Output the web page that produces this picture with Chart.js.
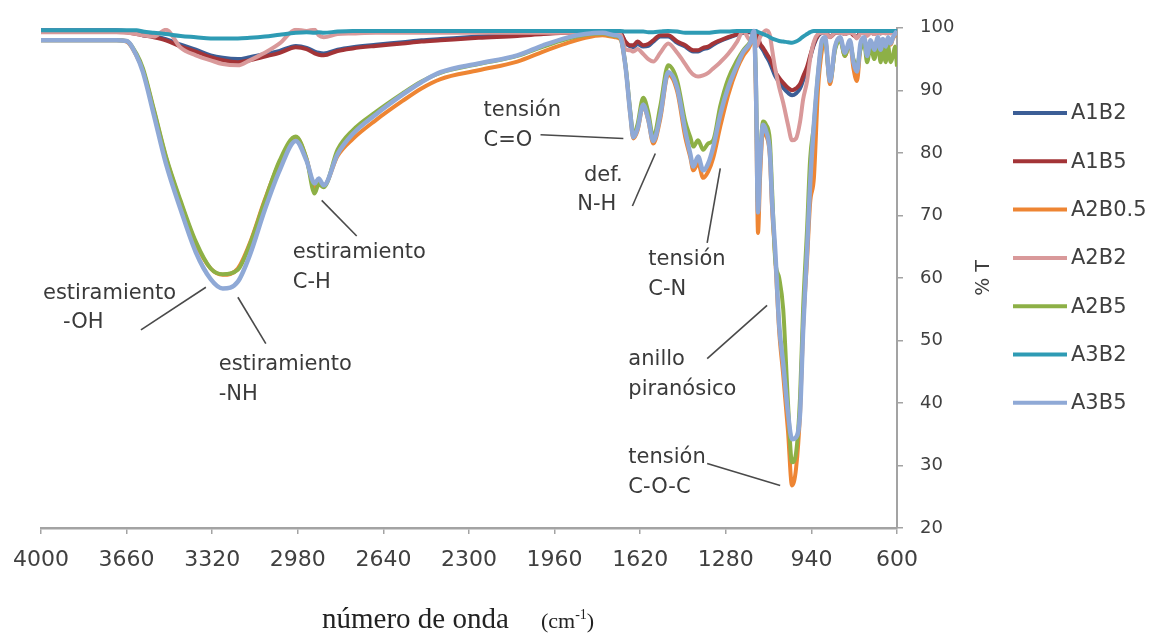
<!DOCTYPE html>
<html><head><meta charset="utf-8">
<script src="https://cdn.jsdelivr.net/npm/chart.js@4.4.1/dist/chart.umd.min.js"></script>
<style>html,body{margin:0;padding:0;background:#fff;}canvas{display:block;}</style>
</head><body>
<canvas id="c" width="1151" height="636"></canvas>
<script>
// ---------- DATA ----------
const wavenumbers = [4000,3800,3700,3660,3620,3595,3552,3504,3445,3385,3326,3278,3218,3171,3111,3052,2988,2945,2913,2897,2877,2822,2762,2671,2564,2489,2413,2262,2108,2005,1913,1838,1770,1720,1699,1679,1659,1647,1631,1608,1588,1568,1540,1509,1473,1441,1421,1409,1390,1370,1350,1330,1302,1271,1235,1211,1183,1168,1160,1152,1144,1132,1120,1105,1096,1084,1068,1052,1033,1017,1001,985,973,957,945,930,914,898,886,866,846,826,807,787,773,759,745,730,719,705,690,676,665,656,645,636,625,616,608,600];

const A1B2 = [99.6,99.6,99.6,99.5,99.2,98.8,98.6,98.2,97.3,96.5,95.6,95.2,95.0,95.3,95.8,96.3,97.1,96.8,96.2,96.0,95.9,96.5,96.9,97.3,97.7,98.0,98.2,98.6,98.9,99.1,99.3,99.4,99.5,99.5,99.3,97.6,97.0,96.9,97.4,97.0,97.1,97.8,98.6,98.6,97.6,97.0,96.4,96.2,96.2,96.6,96.8,97.3,97.9,98.4,98.9,99.2,99.3,99.3,99.0,98.3,97.2,96.4,95.5,94.4,93.5,92.3,91.3,90.4,89.6,89.2,89.5,90.3,91.6,93.3,95.2,97.3,98.7,99.2,99.3,98.6,99.2,99.3,99.0,99.3,98.9,98.6,99.2,99.3,98.9,99.3,99.0,99.3,99.1,99.3,99.2,99.4,99.3,99.4,99.5,99.5];

const A1B5 = [99.4,99.4,99.4,99.3,99.0,98.8,98.5,98.0,97.0,96.2,95.3,94.8,94.5,94.8,95.4,96.0,96.9,96.6,95.9,95.7,95.6,96.3,96.7,97.1,97.5,97.8,98.0,98.4,98.7,99.0,99.2,99.3,99.4,99.4,99.2,97.8,97.2,97.2,97.8,97.2,97.4,98.0,98.8,98.8,97.8,97.2,96.6,96.4,96.4,96.8,97.0,97.5,98.0,98.5,99.0,99.3,99.4,99.4,99.2,98.5,97.5,96.8,96.0,95.0,94.2,93.0,92.0,91.2,90.4,90.0,90.3,91.0,92.2,93.8,95.5,97.5,98.8,99.3,99.3,98.5,99.2,99.3,99.1,99.3,98.8,98.5,99.2,99.3,98.8,99.3,99.1,99.3,99.2,99.3,99.2,99.4,99.3,99.4,99.4,99.4];

const A2B05 = [98.0,98.0,98.0,97.8,95.5,93.2,86.8,79.3,72.0,65.5,61.5,60.5,61.5,65.5,72.5,78.5,82.5,79.0,74.5,75.5,74.8,79.5,82.2,85.2,88.3,90.3,91.8,93.2,94.6,96.2,97.5,98.4,98.8,98.5,98.2,94.0,86.0,82.3,83.5,87.5,85.2,81.5,85.5,92.5,89.8,82.5,79.3,77.2,78.3,76.0,77.0,79.2,84.2,89.2,93.5,95.5,97.2,99.3,88.0,67.2,76.0,83.5,82.8,79.5,71.0,63.5,51.5,44.5,35.5,26.8,29.5,38.5,52.0,63.0,72.0,76.0,90.0,96.5,98.3,91.0,96.8,98.4,95.5,97.8,93.5,91.5,97.0,98.4,95.2,97.8,96.2,98.3,96.3,98.0,96.8,98.3,97.3,98.3,98.8,99.3];

const A2B2 = [99.3,99.3,99.3,99.2,99.0,98.8,98.6,99.7,96.8,95.6,94.8,94.2,94.0,94.8,96.0,97.5,99.7,99.5,99.7,98.8,98.5,99.0,99.1,99.2,99.2,99.2,99.2,99.2,99.2,99.2,99.2,99.2,99.2,99.2,99.0,96.6,96.4,96.2,96.6,95.8,95.0,94.6,96.0,97.5,96.0,94.2,93.0,92.5,92.2,92.4,92.8,93.5,94.5,95.8,97.8,99.5,98.0,99.0,97.0,97.5,98.5,99.2,99.6,98.8,96.5,93.5,90.5,88.0,84.5,82.0,82.3,85.0,88.5,91.5,95.0,97.8,99.0,99.2,99.2,98.5,99.2,99.2,99.0,99.2,99.0,98.3,99.1,99.2,98.7,99.2,99.0,99.2,99.1,99.2,99.1,99.2,99.1,99.2,99.2,99.2];

const A2B5 = [98.0,98.0,98.0,97.9,95.8,93.5,87.0,79.5,72.3,65.8,61.5,60.6,61.3,65.3,72.3,78.8,82.6,79.0,73.5,75.0,74.5,80.5,83.6,86.5,89.5,91.4,92.8,94.2,95.5,97.0,98.2,98.9,99.1,98.7,98.4,94.2,86.5,82.8,84.5,88.8,86.5,82.5,87.5,94.0,91.5,85.0,82.5,81.0,82.0,80.5,81.5,82.0,87.5,91.8,94.8,96.4,97.8,99.4,91.0,72.0,79.0,85.0,84.5,82.0,74.0,63.0,60.0,55.0,40.0,30.5,32.0,41.0,55.0,68.0,79.0,84.5,92.5,97.5,98.0,91.5,96.5,98.0,95.5,97.5,95.0,94.0,96.5,97.5,94.5,97.0,95.0,97.5,94.5,97.0,94.5,97.2,94.5,95.5,97.0,93.8];

const A3B2 = [99.6,99.6,99.6,99.6,99.6,99.4,99.2,99.0,98.7,98.5,98.3,98.3,98.3,98.4,98.6,98.9,99.2,99.3,99.2,99.3,99.2,99.4,99.5,99.5,99.5,99.5,99.5,99.5,99.5,99.5,99.5,99.5,99.5,99.5,99.5,99.4,99.4,99.4,99.4,99.4,99.3,99.3,99.4,99.5,99.4,99.2,99.2,99.2,99.2,99.2,99.2,99.3,99.4,99.4,99.5,99.5,99.5,99.5,99.5,99.3,99.2,99.0,98.8,98.5,98.3,98.1,97.9,97.8,97.7,97.6,97.8,98.2,98.6,99.0,99.3,99.5,99.5,99.5,99.5,99.5,99.5,99.5,99.5,99.5,99.5,99.5,99.5,99.5,99.5,99.5,99.5,99.5,99.5,99.5,99.5,99.5,99.5,99.5,99.5,99.5];

const A3B5 = [98.0,98.0,98.0,97.9,95.5,92.9,86.1,78.3,70.9,64.1,59.8,58.3,59.4,63.6,70.9,77.2,81.9,78.7,75.1,75.9,74.8,79.8,83.0,86.1,89.3,91.3,92.9,94.3,95.6,97.2,98.4,99.0,99.2,98.8,98.5,94.0,86.1,82.5,83.8,87.7,85.4,81.9,86.1,92.9,90.4,83.5,79.8,77.8,79.4,77.2,78.3,80.9,86.1,90.4,94.0,96.1,97.6,99.5,90.0,70.5,78.0,84.5,83.5,80.0,72.0,64.6,52.5,46.3,38.4,34.2,34.5,38.4,51.5,64.6,75.1,84.6,92.4,98.0,98.5,91.5,97.0,98.5,96.0,98.0,94.5,93.0,97.5,98.5,95.5,98.0,96.5,98.5,96.5,98.2,97.0,98.5,97.5,98.5,99.0,99.5];

const seriesNames = ['A1B2','A1B5','A2B0.5','A2B2','A2B5','A3B2','A3B5'];
const seriesValues = [A1B2, A1B5, A2B05, A2B2, A2B5, A3B2, A3B5];

const xTickValues = [4000,3660,3320,2980,2640,2300,1960,1620,1280,940,600];
const yTickValues = [20,30,40,50,60,70,80,90,100];
const xAxisTitle = 'número de onda';
const xAxisUnit = ['(cm', '-1', ')'];
const yAxisTitle = '% T';

// annotations: text lines, anchor [wavenumber, %T], pointer from/to [wavenumber, %T]
const annotations = [
  {lines: ['tensión', 'C=O'], at: [2242, 86.7], from: [2016, 82.9], to: [1687, 82.3]},
  {lines: [' def.', 'N-H'], at: [1870, 76.4], from: [1651, 71.5], to: [1560, 79.9]},
  {lines: ['tensión', 'C-N'], at: [1588, 62.9], from: [1354, 65.6], to: [1302, 77.5]},
  {lines: ['estiramiento', 'C-H'], at: [3000, 64.0], from: [2885, 72.4], to: [2746, 66.7]},
  {lines: ['estiramiento', '   -OH'], at: [3992, 57.5], from: [3603, 51.7], to: [3345, 58.5]},
  {lines: ['estiramiento', '-NH'], at: [3294, 46.1], from: [3218, 56.9], to: [3107, 49.5]},
  {lines: ['anillo', 'piranósico'], at: [1667, 46.9], from: [1354, 47.1], to: [1116, 55.6]},
  {lines: ['tensión', 'C-O-C'], at: [1667, 31.2], from: [1354, 30.3], to: [1064, 26.8]}
];

// ---------- STYLE ----------
const seriesColors = ['#3C5E96','#A33437','#EE8533','#D9999A','#8DB046','#2E9BB4','#8FA9D6'];
const textColor = '#3a3a3a';
const axisColor = '#a3a3a3';

const datasets = seriesNames.map((name, i) => ({
  label: name,
  data: wavenumbers.map((w, j) => ({x: w, y: seriesValues[i][j]})),
  borderColor: seriesColors[i],
  backgroundColor: seriesColors[i],
  borderWidth: i === 6 ? 4.5 : 4,
  pointRadius: 0,
  cubicInterpolationMode: 'monotone',
  fill: false,
  order: seriesNames.length - 1 - i
}));

const decorPlugin = {
  id: 'decor',
  afterDraw(chart) {
    const ctx = chart.ctx;
    const xs = chart.scales.x, ys = chart.scales.y;
    const area = chart.chartArea;
    ctx.save();
    // annotations
    ctx.font = '21px "DejaVu Sans"';
    ctx.fillStyle = textColor;
    ctx.textBaseline = 'middle';
    ctx.textAlign = 'left';
    annotations.forEach(a => {
      const x = xs.getPixelForValue(a.at[0]);
      const y = ys.getPixelForValue(a.at[1]);
      a.lines.forEach((t, k) => ctx.fillText(t, x, y + k * 29.5));
      ctx.beginPath();
      ctx.strokeStyle = '#4a4a4a';
      ctx.lineWidth = 1.6;
      ctx.moveTo(xs.getPixelForValue(a.from[0]), ys.getPixelForValue(a.from[1]));
      ctx.lineTo(xs.getPixelForValue(a.to[0]), ys.getPixelForValue(a.to[1]));
      ctx.stroke();
    });
    // y axis title (rotated, reading bottom to top)
    ctx.save();
    ctx.translate(984, (area.top + area.bottom) / 2);
    ctx.rotate(-Math.PI / 2);
    ctx.font = '19px "DejaVu Sans"';
    ctx.textAlign = 'center';
    ctx.fillStyle = '#404040';
    ctx.fillText(yAxisTitle, 0, 0);
    ctx.restore();
    // x axis title
    ctx.textAlign = 'left';
    ctx.textBaseline = 'alphabetic';
    ctx.fillStyle = '#222';
    ctx.font = '29px "Liberation Serif"';
    const tx = 322, ty = 628;
    ctx.fillText(xAxisTitle, tx, ty);
    let ux = 541;
    ctx.font = '22px "Liberation Serif"';
    ctx.fillText(xAxisUnit[0], ux, ty);
    ux += ctx.measureText(xAxisUnit[0]).width;
    ctx.font = '14px "Liberation Serif"';
    ctx.fillText(xAxisUnit[1], ux, ty - 9);
    ux += ctx.measureText(xAxisUnit[1]).width;
    ctx.font = '22px "Liberation Serif"';
    ctx.fillText(xAxisUnit[2], ux, ty);
    // legend
    ctx.textBaseline = 'middle';
    ctx.font = '21px "DejaVu Sans"';
    seriesNames.forEach((n, i) => {
      const y = 113 + i * 48.3;
      ctx.beginPath();
      ctx.strokeStyle = seriesColors[i];
      ctx.lineWidth = 4;
      ctx.moveTo(1013, y);
      ctx.lineTo(1067, y);
      ctx.stroke();
      ctx.fillStyle = '#404040';
      ctx.fillText(n, 1071, y + 1);
    });
    ctx.restore();
  }
};

new Chart(document.getElementById('c'), {
  type: 'line',
  data: {datasets},
  options: {
    responsive: false,
    animation: false,
    devicePixelRatio: 1,
    layout: {padding: {left: 40, right: 150, top: 23, bottom: 0}},
    plugins: {legend: {display: false}, tooltip: {enabled: false}},
    scales: {
      x: {
        type: 'linear',
        reverse: true,
        min: 600, max: 4000,
        afterBuildTicks: s => { s.ticks = xTickValues.map(v => ({value: v})); },
        afterFit: s => { s.height = 108; },
        grid: {drawOnChartArea: false, drawTicks: true, tickLength: 6, color: axisColor, lineWidth: 1.5},
        border: {display: true, color: axisColor, width: 2.5},
        ticks: {color: '#404040', font: {family: 'DejaVu Sans', size: 22}, padding: 13, maxRotation: 0, autoSkip: false, callback: v => String(v)}
      },
      y: {
        type: 'linear',
        position: 'right',
        min: 20, max: 100,
        afterBuildTicks: s => { s.ticks = yTickValues.map(v => ({value: v})); },
        afterFit: s => { s.width = 1151 - 150 - 897; },
        grid: {drawOnChartArea: false, drawTicks: true, tickLength: 6, color: axisColor, lineWidth: 1.5},
        border: {display: true, color: axisColor, width: 2},
        ticks: {color: '#404040', font: {family: 'DejaVu Sans', size: 18}, padding: 17, crossAlign: 'near', callback: v => String(v)}
      }
    }
  },
  plugins: [decorPlugin]
});
</script>
</body></html>
